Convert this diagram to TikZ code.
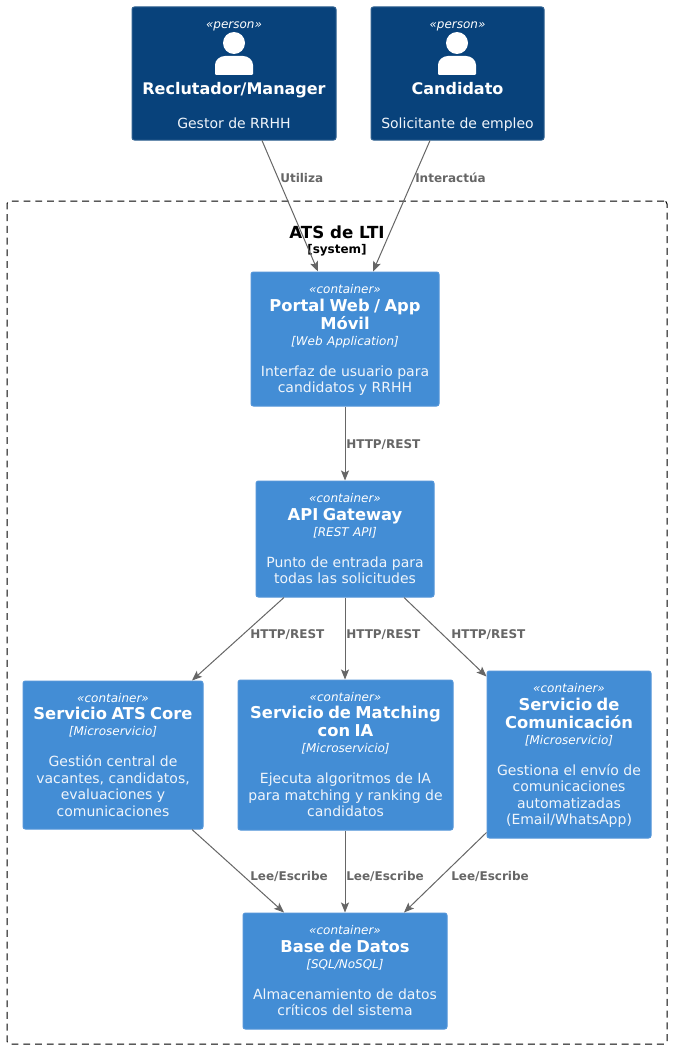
\documentclass[tikz,border=0pt]{standalone}
\usepackage{fontspec}
\setmainfont{DejaVu Sans}
\usetikzlibrary{arrows.meta}
\definecolor{personfill}{HTML}{08427B}
\definecolor{personline}{HTML}{2F6090}
\definecolor{contfill}{HTML}{438DD5}
\definecolor{contline}{HTML}{5496D9}
\definecolor{edgegray}{HTML}{666666}
\definecolor{desctext}{HTML}{F0F5FB}
\newcommand{\Sr}{\rule[-2.4pt]{0pt}{9.4pt}}
\newcommand{\Ster}[2][1.5pt]{{\fontsize{9}{12}\selectfont\itshape\Sr\smash{\raisebox{-#1}{#2}}\par}}
\newcommand{\Nm}[1]{{\fontsize{12.25}{13.6}\selectfont\bfseries #1\par}}
\newcommand{\NmP}[1]{{\fontsize{12}{13.6}\selectfont\bfseries #1\par}}
\newcommand{\Tch}[1]{{\fontsize{9}{12}\selectfont\itshape [#1]\par}}
\newcommand{\Ds}[1]{{\fontsize{10.5}{12.4}\selectfont\color{desctext}\Sr #1\par}}
\newcommand{\Gp}[1]{\vspace{#1pt}}
\newcommand{\Lead}{\vspace*{1.5pt}}
\tikzset{
  x=0.75pt,y=-0.75pt,
  boxbase/.style={draw,rounded corners=1.8pt,line width=0.75pt,text=white,inner sep=0pt,align=center,anchor=center},
  ctr/.style n args={2}{boxbase,fill=contfill,draw=contline,text width=#1*0.75pt,minimum height=#2*0.75pt},
  per/.style n args={2}{boxbase,fill=personfill,draw=personline,text width=#1*0.75pt,minimum height=#2*0.75pt},
  rel/.style={draw=edgegray,line width=0.75pt,-{Stealth[length=7.5pt,width=6pt,inset=1.6pt]}},
  rlabel/.style={text=edgegray,font=\fontsize{9}{11}\selectfont\bfseries,anchor=west,inner sep=0pt},
  boundary/.style={draw=black,dash pattern=on 5.2pt off 3.6pt,line width=0.75pt,rounded corners=2.2pt,minimum width=660*0.75pt,minimum height=843*0.75pt,inner sep=0pt},
  icon/.style={fill=white,draw=none}
}
\begin{document}
\begin{tikzpicture}
\useasboundingbox[fill=white] (0,0) rectangle (672,1049);
\node[boundary] (bound) at (337,622.5) {};
\node[font=\fontsize{12.5}{14}\selectfont\bfseries,text=black,inner sep=0pt] (btitle) at (337,232.5) {ATS de LTI};
\node[font=\fontsize{9}{11}\selectfont\bfseries,text=black,inner sep=0pt] (bsub) at (337,250.3) {[system]};

\node[per={204}{133}] (rec) at (234,73.5) {\vspace*{5.2pt}\Ster[3pt]{«person»}\Gp{33.55}\NmP{Reclutador/Manager}\Gp{12.75}\Ds{Gestor de RRHH}};
\node[per={173}{133}] (cand) at (457.5,73.5) {\vspace*{5.2pt}\Ster[3pt]{«person»}\Gp{33.55}\NmP{Candidato}\Gp{12.75}\Ds{Solicitante de empleo}};

\node[ctr={188}{134}] (portal) at (345,339) {\Lead\Ster{«container»}\Gp{-0.4}\Nm{Portal Web / App}\Nm{Móvil}\Tch{Web Application}\Gp{10.75}\Ds{Interfaz de usuario para}\Ds{candidatos y RRHH}};
\node[ctr={178}{116}] (api) at (345,539) {\Lead\Ster{«container»}\Gp{-0.4}\Nm{API Gateway}\Tch{REST API}\Gp{10.75}\Ds{Punto de entrada para}\Ds{todas las solicitudes}};
\node[ctr={180}{148}] (ats) at (113,755) {\Lead\Ster{«container»}\Gp{-0.4}\Nm{Servicio ATS Core}\Tch{Microservicio}\Gp{10.75}\Ds{Gestión central de}\Ds{vacantes, candidatos,}\Ds{evaluaciones y}\Ds{comunicaciones}};
\node[ctr={215}{150}] (match) at (345.5,755) {\Lead\Ster{«container»}\Gp{-0.4}\Nm{Servicio de Matching}\Nm{con IA}\Tch{Microservicio}\Gp{10.75}\Ds{Ejecuta algoritmos de IA}\Ds{para matching y ranking de}\Ds{candidatos}};
\node[ctr={164}{167}] (comm) at (569,754.5) {\Lead\Ster{«container»}\Gp{-0.4}\Nm{Servicio de}\Nm{Comunicación}\Tch{Microservicio}\Gp{10.75}\Ds{Gestiona el envío de}\Ds{comunicaciones}\Ds{automatizadas}\Ds{(Email/WhatsApp)}};
\node[ctr={204}{116}] (db) at (345,971) {\Lead\Ster{«container»}\Gp{-0.4}\Nm{Base de Datos}\Tch{SQL/NoSQL}\Gp{10.75}\Ds{Almacenamiento de datos}\Ds{críticos del sistema}};

% person icons
\foreach \c in {234,457}{
  \fill[icon] (\c,43) circle[radius=11];
  \fill[icon,rounded corners=0.9pt] (\c-19,75) -- (\c-19,66) .. controls (\c-19,60) and (\c-14,56) .. (\c-8,56) -- (\c+8,56) .. controls (\c+14,56) and (\c+19,60) .. (\c+19,66) -- (\c+19,75) -- cycle;
}

% connectors
\draw[rel] ([xshift=28*0.75pt]rec.south) -- ([xshift=-27*0.75pt]portal.north);
\draw[rel] ([xshift=-27.5*0.75pt]cand.south) -- ([xshift=28*0.75pt]portal.north);
\draw[rel] (portal.south) -- (api.north);
\draw[rel] ([xshift=-61*0.75pt]api.south) -- ([xshift=79*0.75pt]ats.north);
\draw[rel] (api.south) -- (match.north -| api.south);
\draw[rel] ([xshift=59*0.75pt]api.south) -- ([yshift=78*0.75pt]comm.west);
\draw[rel] ([xshift=79*0.75pt]ats.south) -- ([xshift=-61*0.75pt]db.north);
\draw[rel] (match.south -| db.north) -- (db.north);
\draw[rel] ([yshift=-78*0.75pt]comm.west) -- ([xshift=59*0.75pt]db.north);

% connector labels
\node[rlabel] (l1) at (280,178.2) {Utiliza};
\node[rlabel] (l2) at (415,178.2) {Interactúa};
\node[rlabel] (l3) at (346,444.2) {HTTP/REST};
\node[rlabel] (l4) at (250,634.2) {HTTP/REST};
\node[rlabel] (l5) at (346,634.2) {HTTP/REST};
\node[rlabel] (l6) at (451,634.2) {HTTP/REST};
\node[rlabel] (l7) at (250,876.2) {Lee/Escribe};
\node[rlabel] (l8) at (346,876.2) {Lee/Escribe};
\node[rlabel] (l9) at (451,876.2) {Lee/Escribe};
\end{tikzpicture}
\end{document}
